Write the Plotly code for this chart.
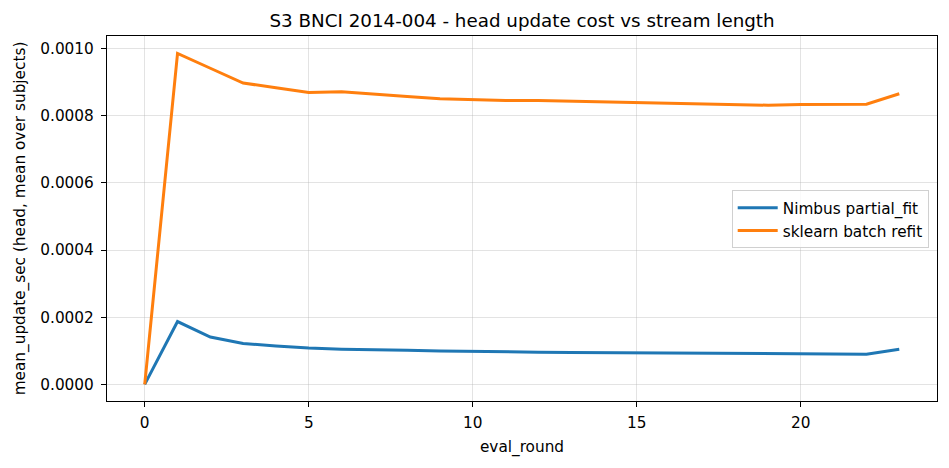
import plotly.graph_objects as go

# mean head update cost per eval round (seconds)
eval_round = list(range(24))
nimbus_partial_fit = [
    0.0, 0.000187, 0.000141, 0.000122, 0.000114, 0.000108, 0.000105, 0.000104,
    0.000102, 0.0000996, 0.0000978, 0.0000966, 0.0000958, 0.0000952, 0.0000948,
    0.0000945, 0.000094, 0.0000932, 0.0000922, 0.0000912, 0.0000907, 0.0000903,
    0.0000898, 0.0001046,
]
sklearn_batch_refit = [
    0.0, 0.000985, 0.000941, 0.000897, 0.000883, 0.000869, 0.000871, 0.000863,
    0.000857, 0.000850, 0.000847, 0.000845, 0.000845, 0.000843, 0.000840,
    0.000837, 0.000836, 0.000834, 0.000831, 0.000831, 0.000833, 0.000834,
    0.000834, 0.000865,
]

font = "DejaVu Sans"

fig = go.Figure()
fig.add_trace(go.Scatter(x=eval_round, y=nimbus_partial_fit, mode="lines",
                         name="Nimbus partial_fit",
                         line=dict(color="#1f77b4", width=3)))
fig.add_trace(go.Scatter(x=eval_round, y=sklearn_batch_refit, mode="lines",
                         name="sklearn batch refit",
                         line=dict(color="#ff7f0e", width=3)))

axis_common = dict(
    showline=True, linecolor="black", linewidth=1.2, mirror=True,
    ticks="outside", ticklen=5, tickwidth=1.2, tickcolor="black",
    showgrid=True, gridcolor="rgba(176,176,176,0.35)", gridwidth=1.1,
    zeroline=False, tickfont=dict(family=font, size=15.3, color="black"),
    automargin=False,
)

fig.update_layout(
    width=949, height=468,
    margin=dict(l=107, r=12, t=36, b=67),
    paper_bgcolor="white", plot_bgcolor="white",
    font=dict(family=font, size=15.3, color="black"),
    title=dict(text="S3 BNCI 2014-004 - head update cost vs stream length",
               x=0.5, xref="paper", xanchor="center",
               y=0.957, yref="container", yanchor="middle",
               font=dict(family=font, size=18.3, color="black")),
    xaxis=dict(range=[-1.15, 24.15], tickvals=[0, 5, 10, 15, 20],
               ticklabelstandoff=3,
               title=dict(text="eval_round", standoff=9,
                          font=dict(family=font, size=15.3)),
               **axis_common),
    yaxis=dict(range=[-0.0000494, 0.001037], dtick=0.0002, tick0=0,
               tickformat=".4f", ticklabelstandoff=4,
               title=dict(text="mean_update_sec (head, mean over subjects)",
                          standoff=10, font=dict(family=font, size=15.3)),
               **axis_common),
    legend=dict(x=0.99, xanchor="right", y=0.498, yanchor="middle",
                bgcolor="rgba(255,255,255,0.8)", bordercolor="#d0d0d0",
                borderwidth=1, font=dict(family=font, size=15.3),
                tracegroupgap=0, itemwidth=40),
    showlegend=True,
)

fig.write_html("out.html", config={"displayModeBar": False},
               post_script="document.body.style.margin='0';")
